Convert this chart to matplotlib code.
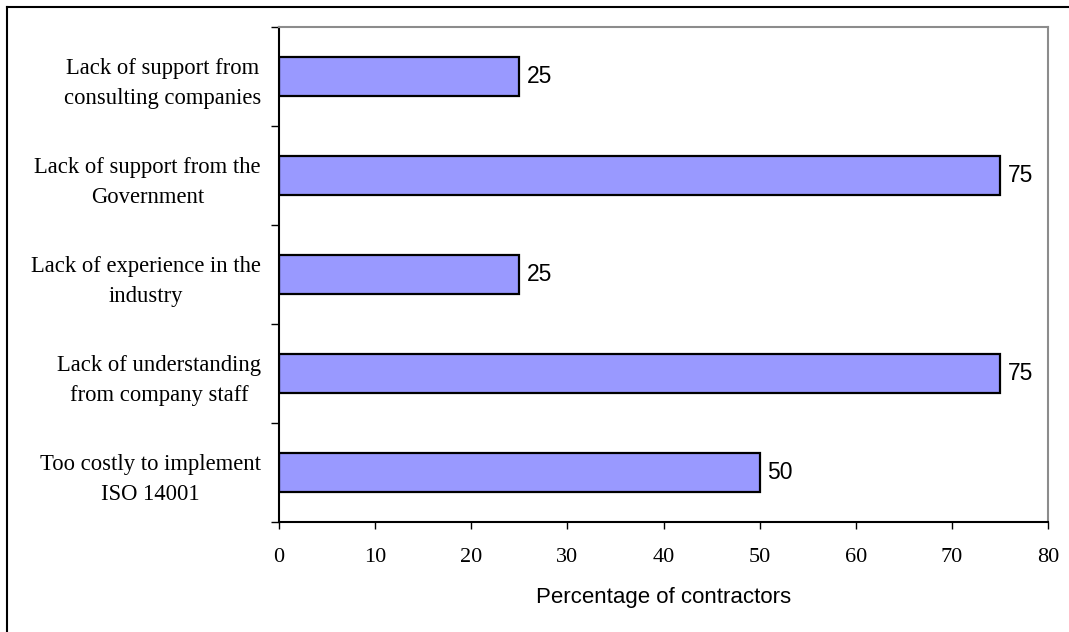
import matplotlib.pyplot as plt
import numpy as np
from matplotlib.lines import Line2D

categories = ["Too costly to implement\nISO 14001",
              "Lack of understanding\nfrom company staff",
              "Lack of experience in the\nindustry",
              "Lack of support from the\nGovernment",
              "Lack of support from\nconsulting companies"]
values = [50, 75, 25, 75, 25]
xticks = [0, 10, 20, 30, 40, 50, 60, 70, 80]

fig = plt.figure(figsize=(10.69, 6.32), dpi=100)
ax = fig.add_axes([279 / 1069, 1 - 522 / 632, (1048 - 279) / 1069, (522 - 27) / 632])

y = np.arange(len(categories))
ax.barh(y, values, height=0.4, color="#9999FF", edgecolor="black", linewidth=1.6)
for yi, v in zip(y, values):
    ax.text(v + 0.8, yi, str(v), va="center", ha="left",
            fontsize=16.5, family="Liberation Sans")

ax.set_xlim(0, 80)
ax.set_ylim(-0.5, len(categories) - 0.5)
ax.set_xticks(xticks)
ax.set_xticklabels([str(t) for t in xticks], family="Liberation Serif", fontsize=16)
ax.set_yticks(y)
ax.set_yticklabels(categories, family="Liberation Serif", fontsize=16.3,
                   multialignment="center", linespacing=1.55)
ax.set_yticks(np.arange(-0.5, len(categories), 1.0), minor=True)
ax.tick_params(axis="y", which="major", length=0, pad=13)
ax.tick_params(axis="y", which="minor", length=6, width=1, direction="out")
ax.tick_params(axis="x", length=5, width=1, direction="out", pad=14)
ax.set_xlabel("Percentage of contractors", family="Liberation Sans", fontsize=16, labelpad=14)

for s in ["left", "bottom"]:
    ax.spines[s].set_color("black")
    ax.spines[s].set_linewidth(1.5)
for s in ["top", "right"]:
    ax.spines[s].set_color("#8c8c8c")
    ax.spines[s].set_linewidth(1.5)

# chart frame (only left and top edges visible in the reference)
fig.add_artist(Line2D([7 / 1069, 7 / 1069], [0, 1 - 7 / 632], color="black", lw=1.5))
fig.add_artist(Line2D([7 / 1069, 1], [1 - 7 / 632, 1 - 7 / 632], color="black", lw=1.5))

fig.savefig("out.png", dpi=100)
